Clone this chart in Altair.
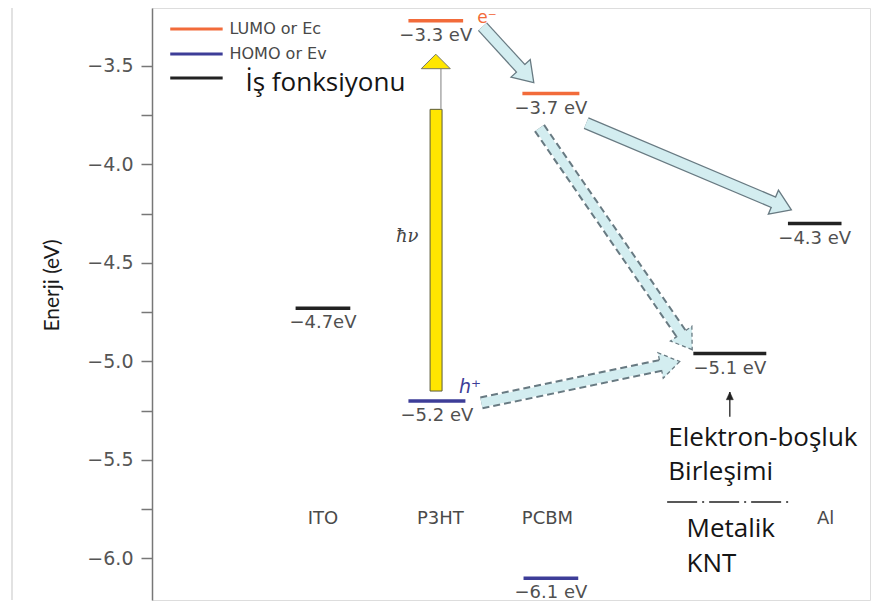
import math
import altair as alt
import pandas as pd

# ---------------- values ----------------
# energy levels (one horizontal bar each)
level_kind = ["İş fonksiyonu", "LUMO or Ec", "HOMO or Ev", "LUMO or Ec",
              "HOMO or Ev", "İş fonksiyonu", "İş fonksiyonu"]
level_left = [0.76, 1.75, 1.75, 2.75, 2.76, 5.08, 4.25]
level_right = [1.24, 2.23, 2.25, 3.25, 3.24, 5.55, 4.89]
level_energy = [-4.73, -3.27, -5.20, -3.64, -6.10, -4.30, -4.96]
level_label = ["−4.7eV", "−3.3 eV", "−5.2 eV", "−3.7 eV", "−6.1 eV", "−4.3 eV", "−5.1 eV"]

# material names under the diagram
material_names = ["ITO", "P3HT", "PCBM", "Al"]
material_pos = [1.0, 2.03, 2.97, 5.41]
material_energy = [-5.80, -5.80, -5.80, -5.80]

# charge-transfer arrows
transfer_from_x = [2.40, 3.31, 2.90, 2.39]
transfer_from_y = [-3.30, -3.79, -3.815, -5.21]
transfer_to_x = [2.85, 5.11, 4.24, 4.13]
transfer_to_y = [-3.585, -4.23, -4.94, -5.00]
transfer_style = ["solid", "solid", "dashed", "dashed"]

# photon absorption arrow (h nu)
photon_bar_x = [1.94, 2.045]
photon_bar_y = [-5.15, -3.72]
photon_stem_x = [2.035]
photon_stem_y = [-3.72, -3.515]
photon_tip = [1.99, -3.44]

# carrier / photon symbols
electron_label = ["e⁻"]; electron_xy = [2.44, -3.258]
hole_label = ["h⁺"]; hole_xy = [2.29, -5.13]
photon_label = ["ħν"]; photon_xy = [1.74, -4.37]

# recombination note
note_lines = ["Elektron-boşluk", "Birleşimi", "Metalik", "KNT"]
note_x = [4.03, 4.03, 4.19, 4.19]
note_y = [-5.39, -5.56, -5.85, -6.03]
divider_x = [4.02, 5.11]
divider_y = [-5.713]
pointer_x = [4.57]
pointer_y = [-5.28, -5.155]

# legend
legend_labels = ["LUMO or Ec", "HOMO or Ev", "İş fonksiyonu"]
legend_line_x = [-0.34, 0.12]
legend_line_y = [-3.312, -3.439, -3.561]
legend_text_x = [0.18, 0.18, 0.32]
legend_text_y = [-3.312, -3.439, -3.586]

# axis ticks
tick_values = [-3.5, -3.75, -4.0, -4.25, -4.5, -4.75, -5.0, -5.25, -5.5, -5.75, -6.0]

# ---------------- layout / style ----------------
W, H = 718, 592
X_DOMAIN = [-0.5, 5.8]
Y_DOMAIN = [-6.2107, -3.2056]
PXX = W / (X_DOMAIN[1] - X_DOMAIN[0])
PXY = H / (Y_DOMAIN[1] - Y_DOMAIN[0])

ORANGE = "#f26b3a"
BLUE = "#3d3d98"
BLACK = "#222222"
GREY_TXT = "#505050"
FILL = "#d3edf0"
EDGE = "#687a82"
NOTE = "#151515"
NOTE_FONT = "Open Sans"

xs = alt.Scale(domain=X_DOMAIN, nice=False, zero=False)
ys = alt.Scale(domain=Y_DOMAIN, nice=False, zero=False)

yaxis = alt.Axis(
    values=tick_values,
    labelExpr="abs(datum.value*2 - round(datum.value*2)) < 0.01 ? format(datum.value, '.1f') : ''",
    tickSize=11, labelPadding=8, labelFont="DejaVu Sans", labelFontSize=19,
    labelColor="#555555", domainColor="#777777", domainWidth=1.5,
    tickColor="#777777", tickWidth=1.5, grid=False,
    titleFont="Lato", titleFontSize=21, titleColor="#1a1a1a", titleFontWeight="normal",
    titleAngle=270, titleX=-100, titleY=277, titleAlign="center", titleBaseline="middle",
)


def X(f):
    return alt.X(f"{f}:Q", scale=xs, axis=None)


def Y(f):
    return alt.Y(f"{f}:Q", scale=ys, axis=yaxis, title="Enerji (eV)")


kind_color = alt.Color("kind:N", legend=None,
                       scale=alt.Scale(domain=legend_labels, range=[ORANGE, BLUE, BLACK]))

# ---------------- tables ----------------
levels = pd.DataFrame({"x": level_left, "x2": level_right, "y": level_energy,
                       "kind": level_kind, "label": level_label})
levels["xm"] = (levels["x"] + levels["x2"]) / 2

materials = pd.DataFrame({"x": material_pos, "y": material_energy, "t": material_names})

HEAD_L = 19.5
rows = []
for x1, y1, x2, y2, st in zip(transfer_from_x, transfer_from_y, transfer_to_x, transfer_to_y, transfer_style):
    dxp = (x2 - x1) * PXX
    dyp = -(y2 - y1) * PXY
    L = math.hypot(dxp, dyp)
    ux, uy = dxp / L, dyp / L
    ox, oy = x2 - (HEAD_L - 4) * ux / PXX, y2 + (HEAD_L - 4) * uy / PXY
    fx, fy = x2 - (HEAD_L - 1.5) * ux / PXX, y2 + (HEAD_L - 1.5) * uy / PXY
    ang = math.degrees(math.atan2(dxp, -dyp)) % 360
    rows.append(dict(x=x1, y=y1, ox=ox, oy=oy, fx=fx, fy=fy, tx=x2, ty=y2, angle=ang, style=st))
arrows = pd.DataFrame(rows)
solid = arrows[arrows["style"] == "solid"]
dashed = arrows[arrows["style"] == "dashed"]

HEAD_PATH = "M0,0L1,1.5L-1,1.5Z"
HEAD_PATH_PHOTON = "M0,0L1,1L-1,1Z"
HEAD_PATH_SMALL = "M0,0L1,2.2L-1,2.2Z"

layers = []

# faint border at the far left
layers.append(alt.Chart(pd.DataFrame({"y": [0]})).mark_rule(color="#e2e2e2", strokeWidth=2)
              .encode(x=alt.value(-140), y=alt.value(0), y2=alt.value(H)))

# energy levels
layers.append(alt.Chart(levels).mark_rule(strokeWidth=3.5)
              .encode(x=X("x"), x2="x2:Q", y=Y("y"), color=kind_color))
layers.append(alt.Chart(levels).mark_text(dy=15, font="DejaVu Sans", fontSize=18,
                                          color=GREY_TXT, baseline="middle", align="center")
              .encode(x=X("xm"), y=Y("y"), text="label:N"))

# material names
layers.append(alt.Chart(materials).mark_text(font="DejaVu Sans", fontSize=18, color="#4a4a4a",
                                             baseline="middle", align="center")
              .encode(x=X("x"), y=Y("y"), text="t:N"))

# transfer arrows
layers.append(alt.Chart(solid).mark_rule(color=EDGE, strokeWidth=12.5, strokeCap="butt")
              .encode(x=X("x"), y=Y("y"), x2="ox:Q", y2="oy:Q"))
layers.append(alt.Chart(dashed).mark_rule(color=EDGE, strokeWidth=13, strokeCap="butt", strokeDash=[7, 4])
              .encode(x=X("x"), y=Y("y"), x2="ox:Q", y2="oy:Q"))
layers.append(alt.Chart(solid).mark_point(shape=HEAD_PATH, size=676, filled=True, fill=FILL,
                                          stroke=EDGE, strokeWidth=1.3, opacity=1, fillOpacity=1)
              .encode(x=X("tx"), y=Y("ty"), angle=alt.Angle("angle:Q", scale=None)))
layers.append(alt.Chart(dashed).mark_point(shape=HEAD_PATH, size=676, filled=True, fill=FILL,
                                           stroke=EDGE, strokeWidth=1.3, strokeDash=[4, 3],
                                           opacity=1, fillOpacity=1)
              .encode(x=X("tx"), y=Y("ty"), angle=alt.Angle("angle:Q", scale=None)))
layers.append(alt.Chart(solid).mark_rule(color=FILL, strokeWidth=10, strokeCap="butt")
              .encode(x=X("x"), y=Y("y"), x2="fx:Q", y2="fy:Q"))
layers.append(alt.Chart(dashed).mark_rule(color=FILL, strokeWidth=9, strokeCap="butt")
              .encode(x=X("x"), y=Y("y"), x2="fx:Q", y2="fy:Q"))

# photon arrow
layers.append(alt.Chart(pd.DataFrame({"x": [photon_bar_x[0]], "x2": [photon_bar_x[1]],
                                      "y": [photon_bar_y[0]], "y2": [photon_bar_y[1]]}))
              .mark_rect(color="#ffe600", stroke="#5a5a3a", strokeWidth=1)
              .encode(x=X("x"), x2="x2:Q", y=Y("y"), y2="y2:Q"))
layers.append(alt.Chart(pd.DataFrame({"x": photon_stem_x, "y": [photon_stem_y[0]], "y2": [photon_stem_y[1]]}))
              .mark_rule(color="#aaaaaa", strokeWidth=1.5)
              .encode(x=X("x"), y=Y("y"), y2="y2:Q"))
layers.append(alt.Chart(pd.DataFrame({"x": [photon_tip[0]], "y": [photon_tip[1]]}))
              .mark_point(shape=HEAD_PATH_PHOTON, size=841, filled=True, fill="#ffe600",
                          stroke="#777766", strokeWidth=1, opacity=1, fillOpacity=1)
              .encode(x=X("x"), y=Y("y")))

# symbols
layers.append(alt.Chart(pd.DataFrame({"x": [electron_xy[0]], "y": [electron_xy[1]], "t": electron_label}))
              .mark_text(font="DejaVu Sans", fontSize=17, color=ORANGE, baseline="middle", align="center")
              .encode(x=X("x"), y=Y("y"), text="t:N"))
layers.append(alt.Chart(pd.DataFrame({"x": [hole_xy[0]], "y": [hole_xy[1]], "t": hole_label}))
              .mark_text(font="DejaVu Sans", fontSize=19, fontStyle="italic", color=BLUE,
                         baseline="middle", align="center")
              .encode(x=X("x"), y=Y("y"), text="t:N"))
layers.append(alt.Chart(pd.DataFrame({"x": [photon_xy[0]], "y": [photon_xy[1]], "t": photon_label}))
              .mark_text(font="DejaVu Serif", fontSize=18, fontStyle="italic", color="#444444",
                         baseline="middle", align="center")
              .encode(x=X("x"), y=Y("y"), text="t:N"))

# recombination note
layers.append(alt.Chart(pd.DataFrame({"x": pointer_x, "y": [pointer_y[0]], "y2": [pointer_y[1]]}))
              .mark_rule(color=BLACK, strokeWidth=1.3)
              .encode(x=X("x"), y=Y("y"), y2="y2:Q"))
layers.append(alt.Chart(pd.DataFrame({"x": pointer_x, "y": [pointer_y[1]]}))
              .mark_point(shape=HEAD_PATH_SMALL, size=49, filled=True, fill=BLACK,
                          stroke=BLACK, strokeWidth=0.5, opacity=1, fillOpacity=1)
              .encode(x=X("x"), y=Y("y")))
layers.append(alt.Chart(pd.DataFrame({"x": note_x, "y": note_y, "t": note_lines}))
              .mark_text(font=NOTE_FONT, fontSize=26, color=NOTE, baseline="middle", align="left")
              .encode(x=X("x"), y=Y("y"), text="t:N"))
layers.append(alt.Chart(pd.DataFrame({"x": [divider_x[0]], "x2": [divider_x[1]], "y": divider_y}))
              .mark_rule(color=BLACK, strokeWidth=1.6, strokeDash=[30, 5, 2, 5])
              .encode(x=X("x"), x2="x2:Q", y=Y("y")))

# legend
leg = pd.DataFrame({"x": [legend_line_x[0]] * 3, "x2": [legend_line_x[1]] * 3,
                    "y": legend_line_y, "kind": legend_labels,
                    "tx": legend_text_x, "ty": legend_text_y})
layers.append(alt.Chart(leg).mark_rule(strokeWidth=3)
              .encode(x=X("x"), x2="x2:Q", y=Y("y"), color=kind_color))
layers.append(alt.Chart(leg.iloc[:2]).mark_text(font="DejaVu Sans", fontSize=16, color="#484848",
                                                baseline="middle", align="left")
              .encode(x=X("tx"), y=Y("ty"), text="kind:N"))
layers.append(alt.Chart(leg.iloc[2:]).mark_text(font=NOTE_FONT, fontSize=26, color=NOTE,
                                                baseline="middle", align="left")
              .encode(x=X("tx"), y=Y("ty"), text="kind:N"))

chart = (alt.layer(*layers)
         .properties(width=W, height=H, autosize=alt.AutoSizeParams(type="none"),
                     padding={"left": 144, "top": 0, "right": 3, "bottom": 1})
         .configure_view(stroke=None)
         .configure(background="white"))

chart.save("out.html", embed_options={"renderer": "svg", "actions": False})
